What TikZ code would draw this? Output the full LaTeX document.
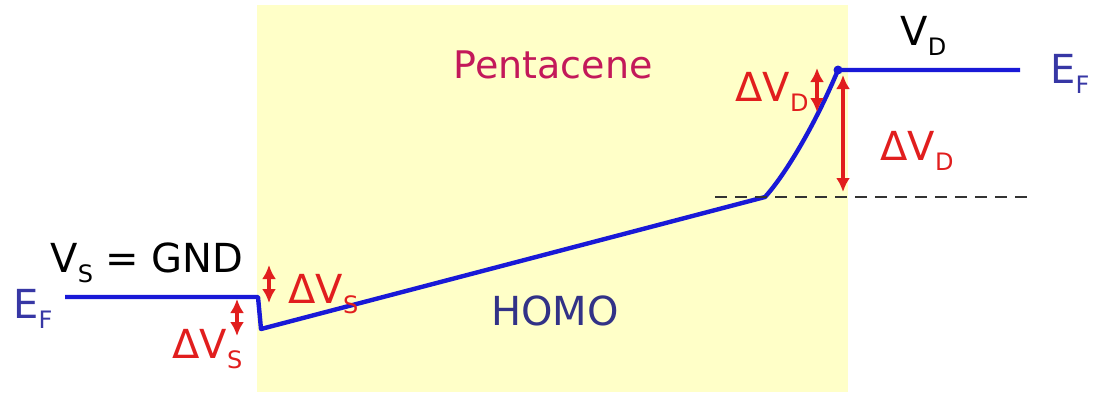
\documentclass[tikz,border=0pt]{standalone}
\usepackage{fontspec}
\setmainfont{DejaVu Sans}
\usetikzlibrary{arrows.meta}
\definecolor{bandblue}{RGB}{25,25,215}
\definecolor{efblue}{RGB}{55,55,165}
\definecolor{homoblue}{RGB}{50,50,135}
\definecolor{pentared}{RGB}{195,25,90}
\definecolor{arrowred}{RGB}{225,30,30}
\definecolor{layeryellow}{RGB}{255,255,200}
\newcommand{\lowsub}[1]{\raisebox{-5pt}{\fontsize{12}{12}\selectfont #1}}
\begin{document}
\begin{tikzpicture}[x=0.5pt, y=-0.5pt,
  every node/.style={font=\fontsize{20}{24}\selectfont, inner sep=0pt, anchor=base west},
  dv/.style={<->, >={Latex[length=7pt,width=7pt]}, arrowred, line width=1.7pt}]
\useasboundingbox (0,0) rectangle (1096,392);
\fill[layeryellow] (257,5) rectangle (848,392);
% band edge
\coordinate (sL) at (65,297);
\coordinate (sI) at (258,297);
\coordinate (sB) at (261,329);
\coordinate (kn) at (765,197);
\coordinate (dT) at (838,70);
\coordinate (dR) at (1020,70);
\draw[bandblue, line width=2.2pt, line join=round] (sL) -- (sI) -- (sB) -- (kn)
  .. controls (785,175) and (815,125) .. (dT) -- (dR);
\fill[bandblue] (dT) circle (4.5);
\coordinate (hL) at (715,197);
\coordinate (hR) at (1030,197);
\draw[black!80, line width=1.4pt, dash pattern=on 6pt off 4pt] (hL) -- (hR);
% red arrows
\coordinate (a1t) at (237,299); \coordinate (a1b) at (237,336);
\coordinate (a2t) at (269,265); \coordinate (a2b) at (269,303);
\coordinate (a3t) at (817,68);  \coordinate (a3b) at (817,112);
\coordinate (a4t) at (843,75);  \coordinate (a4b) at (843,192);
\draw[dv] (a1t) -- (a1b);
\draw[dv] (a2t) -- (a2b);
\draw[dv] (a3t) -- (a3b);
\draw[dv] (a4t) -- (a4b);
% labels
\node (vs) at (50,272) {V\lowsub{S} = GND};
\node[efblue] (efl) at (13,318) {E\lowsub{F}};
\node (vd) at (900,45) {V\lowsub{D}};
\node[efblue] (efr) at (1050,83) {E\lowsub{F}};
\node[arrowred] (dvs1) at (172,358) {ΔV\lowsub{S}};
\node[arrowred] (dvs2) at (288,303) {ΔV\lowsub{S}};
\node[arrowred] (dvd1) at (735,101) {ΔV\lowsub{D}};
\node[arrowred] (dvd2) at (880,160) {ΔV\lowsub{D}};
\node[pentared, anchor=base, font=\fontsize{19}{23}\selectfont] (penta) at (553,78) {Pentacene};
\node[homoblue, anchor=base] (homo) at (555,325) {HOMO};
\end{tikzpicture}
\end{document}
